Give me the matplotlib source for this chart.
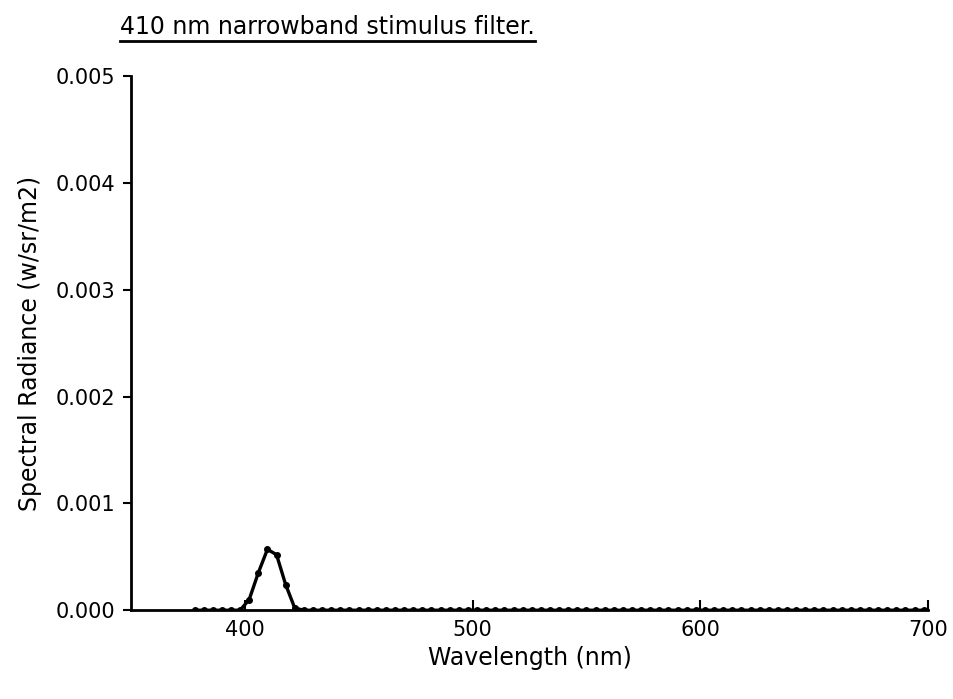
import numpy as np
import matplotlib.pyplot as plt

plt.rcParams['font.family'] = ['DejaVu Sans']

# wavelength samples (nm) and spectral radiance (w/sr/m2)
wavelength = list(range(378, 702, 4))
peak_wl = [398, 402, 406, 410, 414, 418, 422]
peak_val = [0.0, 0.0001, 0.00035, 0.00057, 0.00052, 0.00024, 0.00002]
radiance = [peak_val[peak_wl.index(w)] if w in peak_wl else 0.0 for w in wavelength]

title = "410 nm narrowband stimulus filter."
xticks = [400, 500, 600, 700]
yticks = [0.000, 0.001, 0.002, 0.003, 0.004, 0.005]

fig = plt.figure(figsize=(9.54, 6.99), dpi=100)
ax = fig.add_axes([0.137, 0.127, 0.836, 0.764])

ax.plot(wavelength, radiance, color='black', lw=2.4, marker='o', ms=4)

ax.set_xlim(350, 700)
ax.set_ylim(0, 0.005)
ax.set_xticks(xticks)
ax.set_yticks(yticks)
ax.set_yticklabels(["%.3f" % v for v in yticks])
ax.tick_params(axis='x', direction='in', length=7, width=1.5, labelsize=15, pad=7)
ax.tick_params(axis='y', direction='out', length=6, width=1.5, labelsize=15, pad=5)
for s in ['top', 'right']:
    ax.spines[s].set_visible(False)
for s in ['left', 'bottom']:
    ax.spines[s].set_linewidth(2)

ax.set_xlabel("Wavelength (nm)", fontsize=17, labelpad=4)
ax.set_ylabel("Spectral Radiance (w/sr/m2)", fontsize=17, labelpad=10)

t = fig.text(0.126, 0.962, title, fontsize=17, ha='left', va='center')
fig.canvas.draw()
bb = t.get_window_extent()
x0, x1 = bb.x0 / fig.bbox.width, bb.x1 / fig.bbox.width
yline = bb.y0 / fig.bbox.height - 0.004
fig.add_artist(plt.Line2D([x0, x1], [yline, yline], color='black', lw=2))

fig.savefig("out.png", dpi=100)
